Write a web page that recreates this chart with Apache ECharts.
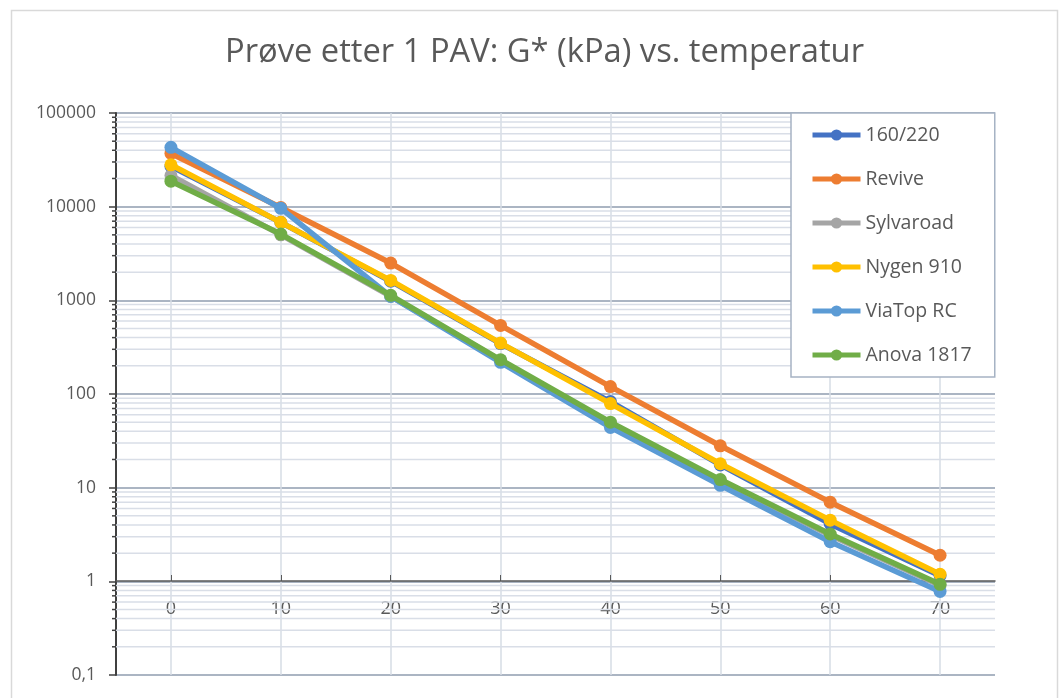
<!DOCTYPE html>
<html>
<head>
<meta charset="utf-8">
<script src="https://cdn.jsdelivr.net/npm/echarts@6/dist/echarts.min.js"></script>
<style>
html,body{margin:0;padding:0;background:#fff;}
#chart{width:1063px;height:698px;}
</style>
</head>
<body>
<div id="chart"></div>
<script>
const categories = ['0','10','20','30','40','50','60','70'];
const s160_220   = [27000, 6800, 1600, 345, 83, 17.5, 4.1, 1.15];
const sRevive    = [37000, 9800, 2500, 540, 120, 28, 7.0, 1.9];
const sSylvaroad = [21500, 5000, 1100, 228, 48, 11.8, 3.1, 0.9];
const sNygen910  = [28000, 6800, 1630, 350, 79, 18, 4.5, 1.19];
const sViaTopRC  = [43000, 9600, 1100, 218, 44, 10.6, 2.65, 0.78];
const sAnova1817 = [18700, 5100, 1130, 232, 50, 12.2, 3.2, 0.93];
const seriesNames = ['160/220','Revive','Sylvaroad','Nygen 910','ViaTop RC','Anova 1817'];
const seriesColors = ['#4472C4','#ED7D31','#A5A5A5','#FFC000','#5B9BD5','#70AD47'];
const minorMantissas = [2,3,4,5,6,7,8,9];
const decades = [0.1, 1, 10, 100, 1000, 10000];

const minorValues = [];
decades.forEach(d => minorMantissas.forEach(m => minorValues.push(+(m*d).toPrecision(3))));

const font = '"Open Sans", "Noto Sans", sans-serif';
const allData = [s160_220, sRevive, sSylvaroad, sNygen910, sViaTopRC, sAnova1817];

const lineSeries = seriesNames.map((name, i) => ({
  name: name,
  type: 'line',
  data: allData[i],
  symbol: 'circle',
  symbolSize: 13,
  itemStyle: {color: seriesColors[i]},
  lineStyle: {color: seriesColors[i], width: 5.5},
  z: 5 + i
}));

const chart = echarts.init(document.getElementById('chart'));
chart.setOption({
  animation: false,
  backgroundColor: '#fff',
  textStyle: {fontFamily: font},
  graphic: [{
    type: 'rect', left: 9, top: 8, z: -1,
    shape: {width: 1046, height: 700},
    style: {fill: 'none', stroke: '#d9d9d9', lineWidth: 1.5}
  }],
  title: {
    text: 'Prøve etter 1 PAV: G* (kPa) vs. temperatur',
    left: 220, top: 31,
    textStyle: {fontSize: 32.7, fontWeight: 'normal', color: '#595959', fontFamily: font}
  },
  legend: {
    orient: 'vertical',
    left: 791, top: 113,
    data: seriesNames,
    itemWidth: 48, itemHeight: 14, itemGap: 24,
    padding: [12, 23, 12, 19],
    backgroundColor: '#fff',
    borderColor: '#a6b3c4', borderWidth: 1.5,
    lineStyle: {width: 5},
    itemStyle: {borderWidth: 0},
    textStyle: {fontSize: 19.5, color: '#595959', fontFamily: font},
    z: 20
  },
  grid: {left: 116, top: 113, right: 68, bottom: 23, containLabel: false},
  xAxis: {
    type: 'category',
    data: categories,
    boundaryGap: true,
    position: 'bottom',
    offset: -94,
    axisLine: {lineStyle: {color: '#595959', width: 1.5}},
    axisTick: {show: true, inside: true, alignWithLabel: true, length: 6, lineStyle: {color: '#595959'}},
    axisLabel: {fontSize: 18, color: '#595959', margin: 19, fontFamily: font},
    splitLine: {show: true, alignWithLabel: true, lineStyle: {color: '#d6dce5', width: 1.5}}
  },
  yAxis: {
    type: 'log',
    logBase: 10,
    min: 0.1,
    max: 100000,
    axisLine: {show: true, lineStyle: {color: '#404040', width: 2}},
    axisTick: {show: true, length: 7, lineStyle: {color: '#404040', width: 1.5}},
    axisLabel: {
      fontSize: 17.5, color: '#595959', margin: 20, fontFamily: font,
      formatter: v => v < 1 ? v.toFixed(1).replace('.', ',') : String(Math.round(v))
    },
    splitLine: {show: true, lineStyle: {color: '#8f9caf', width: 1.5}}
  },
  series: [{
    name: 'minor',
    type: 'custom',
    data: minorValues,
    clip: false,
    silent: true,
    z: 1,
    encode: {y: 0},
    renderItem: function (params, api) {
      const cs = params.coordSys;
      const y = api.coord([0, api.value(0)])[1];
      return {
        type: 'group',
        children: [
          {type: 'line', shape: {x1: cs.x, y1: y, x2: cs.x + cs.width, y2: y},
           style: {stroke: '#d9dee7', lineWidth: 1.5}},
          {type: 'line', shape: {x1: cs.x - 4, y1: y, x2: cs.x, y2: y},
           style: {stroke: '#404040', lineWidth: 1.5}}
        ]
      };
    }
  }].concat(lineSeries)
});
</script>
</body>
</html>
